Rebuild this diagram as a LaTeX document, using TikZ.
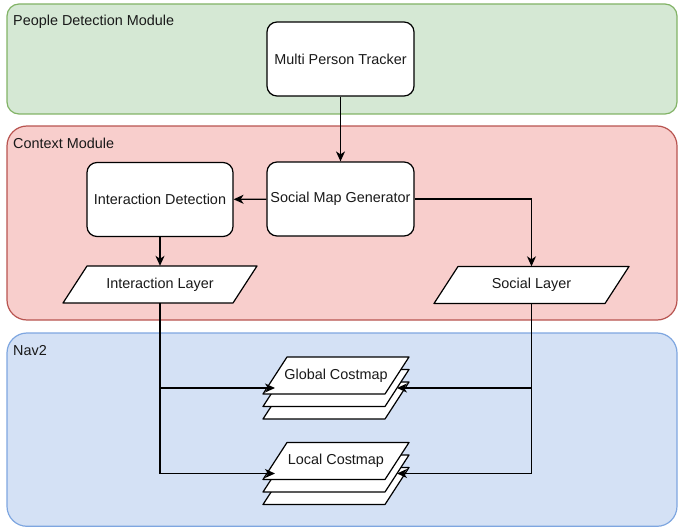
\documentclass[tikz,border=0pt]{standalone}
\usepackage{fontspec}
\setmainfont{Liberation Sans}
\usetikzlibrary{arrows.meta}
\definecolor{gfill}{HTML}{D5E8D4}
\definecolor{gline}{HTML}{82B366}
\definecolor{rfill}{HTML}{F8CECC}
\definecolor{rline}{HTML}{B85450}
\definecolor{bfill}{HTML}{D4E1F5}
\definecolor{bline}{HTML}{7EA6E0}
\begin{document}
\begin{tikzpicture}[x=1pt,y=-1pt,
  every node/.style={font=\fontsize{14.4}{17}\selectfont, text=black!90},
  box/.style={draw, fill=white, rounded corners=10pt, minimum width=147pt, minimum height=74pt, inner sep=0pt, line width=1.2pt},
  lw/.store in=\lw, lw=146,
  pics/para/.style={code={
    \draw[fill=white, line width=1.2pt, line join=round] (-\lw/2,18.5) -- (\lw/2-24,18.5) -- (\lw/2,-18.5) -- (-\lw/2+24,-18.5) -- cycle;
    \node[inner sep=0pt, minimum width=\lw-24, minimum height=37] (-t) {#1};
    \coordinate (-w) at (-\lw/2+12,0);
    \coordinate (-e) at (\lw/2-12,0);
  }},
  arr/.style={-{Stealth[length=10pt,width=9pt,inset=3pt]}, line width=1.2pt},
  grp/.style={line width=1.2pt},
  glabel/.style={anchor=base west, inner sep=0pt},
]
\useasboundingbox (0,0) rectangle (678,527);
% containers
\draw[grp, fill=gfill, draw=gline, rounded corners=12pt] (7,4) rectangle (677,114);
\draw[grp, fill=rfill, draw=rline, rounded corners=20pt] (7,126) rectangle (677,320);
\draw[grp, fill=bfill, draw=bline, rounded corners=20pt] (7,333) rectangle (677,526.3);
\node[glabel] (lpdm) at (13,26) {People Detection Module};
\node[glabel] (lcm) at (13,148) {Context Module};
\node[glabel] (lnav) at (13,355) {Nav2};
% nodes
\node[box] (mpt) at (340.5,59) {Multi Person Tracker};
\node[box] (smg) at (340.5,199) {Social Map Generator};
\node[box, minimum width=146pt] (idet) at (160,199.5) {Interaction Detection};
\pic[lw=194] (il) at (160,284.5) {para={Interaction Layer}};
\pic[lw=195] (sl) at (531.5,285) {para={Social Layer}};
\pic[lw=146] (gc3) at (336,400.5) {para={}};
\pic[lw=146] (gc2) at (336,388) {para={}};
\pic[lw=146] (gc) at (336,375.5) {para={Global Costmap}};
\pic[lw=146] (lc3) at (336,486) {para={}};
\pic[lw=146] (lc2) at (336,473.5) {para={}};
\pic[lw=146] (lc) at (336,461) {para={Local Costmap}};
% connectors
\draw[arr] (mpt) -- (smg);
\draw[arr] (smg) -- (idet);
\draw[arr] (smg.east) -| (sl-t.north);
\draw[arr] (idet) -- (il-t);
\draw[arr] (il-t.south) |- (gc2-w);
\draw[arr] (il-t.south) |- (lc2-w);
\draw[arr] (sl-t.south) |- (gc2-e);
\draw[arr] (sl-t.south) |- (lc2-e);
\end{tikzpicture}
\end{document}
